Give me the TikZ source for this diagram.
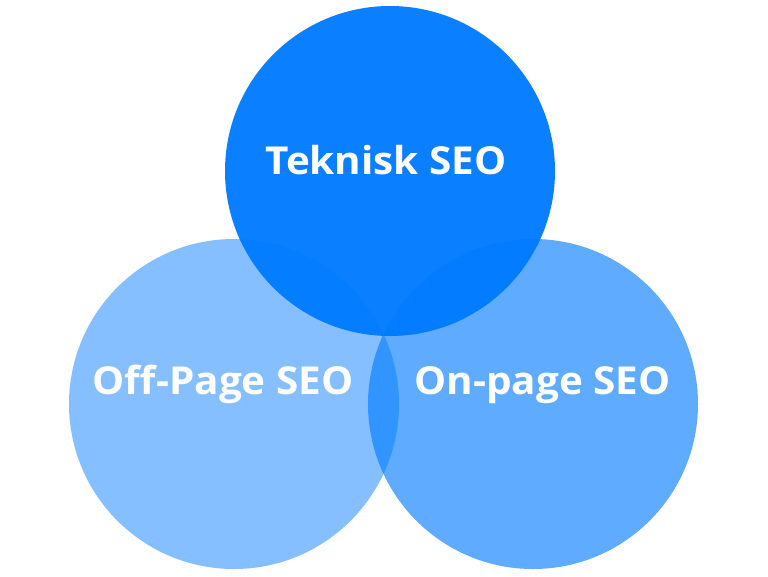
\documentclass[tikz,border=0pt]{standalone}
\usepackage{fontspec}
\setmainfont{Open Sans}[FakeStretch=1.05]
\usepackage{tikz}
\usetikzlibrary{positioning}

\definecolor{seoblue}{RGB}{0,122,255}

\begin{document}
\begin{tikzpicture}[x=1pt,y=-1pt,node distance=299pt,on grid,
    seocircle/.style={circle,minimum size=330pt,inner sep=0pt,fill=seoblue},
    seolabel/.style={text=white,font=\fontsize{38.5}{41}\selectfont\bfseries,anchor=base,inner sep=0pt}]
      \useasboundingbox (0,0) rectangle (768,576);

      \node[seocircle,fill opacity=0.48] (offpage) at (234,404) {};
      \node[seocircle,fill opacity=0.63] (onpage) [right=of offpage] {};
      \node[seocircle,fill opacity=0.96] (teknisk) at (390,171) {};

      \node[seolabel] (teknisk_t) at (386,174.3) {Teknisk SEO};
      \node[seolabel] (offpage_t) at (223,394.3) {Off-Page SEO};
      \node[seolabel] (onpage_t) at (542.5,394.3) {On-page SEO};
    \end{tikzpicture}
\end{document}
